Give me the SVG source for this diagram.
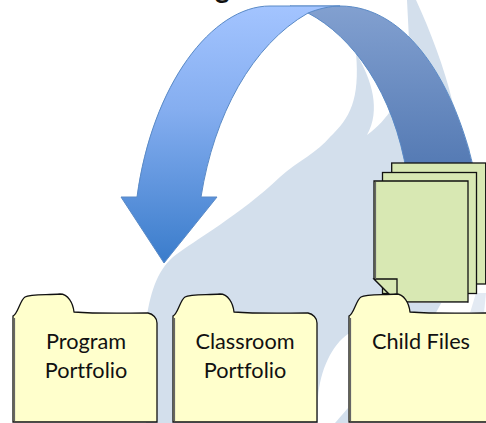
<svg xmlns="http://www.w3.org/2000/svg" width="486" height="423" viewBox="0 0 486 423">
<style>
text{font-family:"Lato","Carlito","Liberation Sans",sans-serif;font-size:21.7px;fill:#111;text-anchor:middle;font-variant-ligatures:none}
.folder{fill:#ffffcc;stroke:#111;stroke-width:1.3}
.page{fill:#d8e8b3;stroke:#111;stroke-width:1.3}
.arrow{stroke:#5a8ac6;stroke-width:1}
.sh{fill:none;stroke:#666;stroke-width:1.2}
</style>
<defs>
<linearGradient id="lite" gradientUnits="userSpaceOnUse" x1="0" y1="6" x2="0" y2="263"><stop offset="0" stop-color="#a3c4ff"/><stop offset=".4" stop-color="#85aef0"/><stop offset="1" stop-color="#3a7ccb"/></linearGradient>
<linearGradient id="dark" gradientUnits="userSpaceOnUse" x1="0" y1="6" x2="0" y2="175"><stop offset="0" stop-color="#82a0d0"/><stop offset="1" stop-color="#5278b2"/></linearGradient>
</defs>
<rect width="486" height="423" fill="#fff"/>
<g id="background" fill="#d3dfec">
<path d="M146 322C150 295 156 272 173 257C195 240 240 215 280 177C298 161 318 152 330 137C350 118 360 100 356 53C372 80 381 110 367 135C378 127 386 118 393 107L410 60L407 0L416 0C430 30 445 70 452 100L470 150L470 280L445 296L432 320L400 335L348 334C332 345 320 370 318 398L318 423L146 423Z"/>
<path d="M335 423L348 408L348 423Z"/>
<path fill="#e3eaf3" d="M476 293L486 293L484 313L470 313Z"/>
</g>
<g id="connectors">
<path class="arrow" fill="url(#dark)" d="M308 13C352 36 394 92 407 175L475 175C456 85 408 6 340 6L290 6Z"/>
<path class="arrow" fill="url(#lite)" d="M340 6L270 6C212 6 152 85 137 197L121 197L164 263L217 197L201 197C214 115 252 45 308 13C318 9 330 6 340 6Z"/>
</g>
<g id="files">
<rect class="page" x="391.700" y="163" width="94" height="121"/>
<rect class="page" x="382.500" y="172.500" width="94" height="121"/>
<path class="page" d="M374 181H468V302H397L374 279Z"/>
<path class="page" d="M374 279H397V302Z"/>
<path class="sh" d="M375.500 182V279M375 302.500H467"/>
</g>
<g id="program-portfolio">
<path class="folder" d="M13 422V316C18 314 20 300 25 297C30 294 45 295 60 294C68 294 73 303 74 312C100 314 125 313 148 313C153 314 157 318 157 323V422Z"/>
<path class="sh" d="M14.500 318V421"/>
<text x="86" y="349">Program</text><text x="86" y="378">Portfolio</text>
</g>
<g id="classroom-portfolio">
<path class="folder" d="M173 422V316C178 314 180 300 185 297C190 294 205 295 220 294C228 294 233 303 234 312C260 314 285 313 308 313C313 314 317 318 317 323V422Z"/>
<path class="sh" d="M174.500 318V421"/>
<text x="245" y="349">Classroom</text><text x="245" y="378">Portfolio</text>
</g>
<g id="child-files">
<path class="folder" d="M349 422V316C354 314 356 300 361 297C366 294 381 295 396 294C404 294 409 303 410 312C436 314 465 313 490 313V422Z"/>
<path class="sh" d="M350.500 318V421"/>
<text x="421" y="349">Child Files</text>
</g>
<text x="222.500" y="-2.500" style="font-weight:700;font-size:28px">g</text>
</svg>
